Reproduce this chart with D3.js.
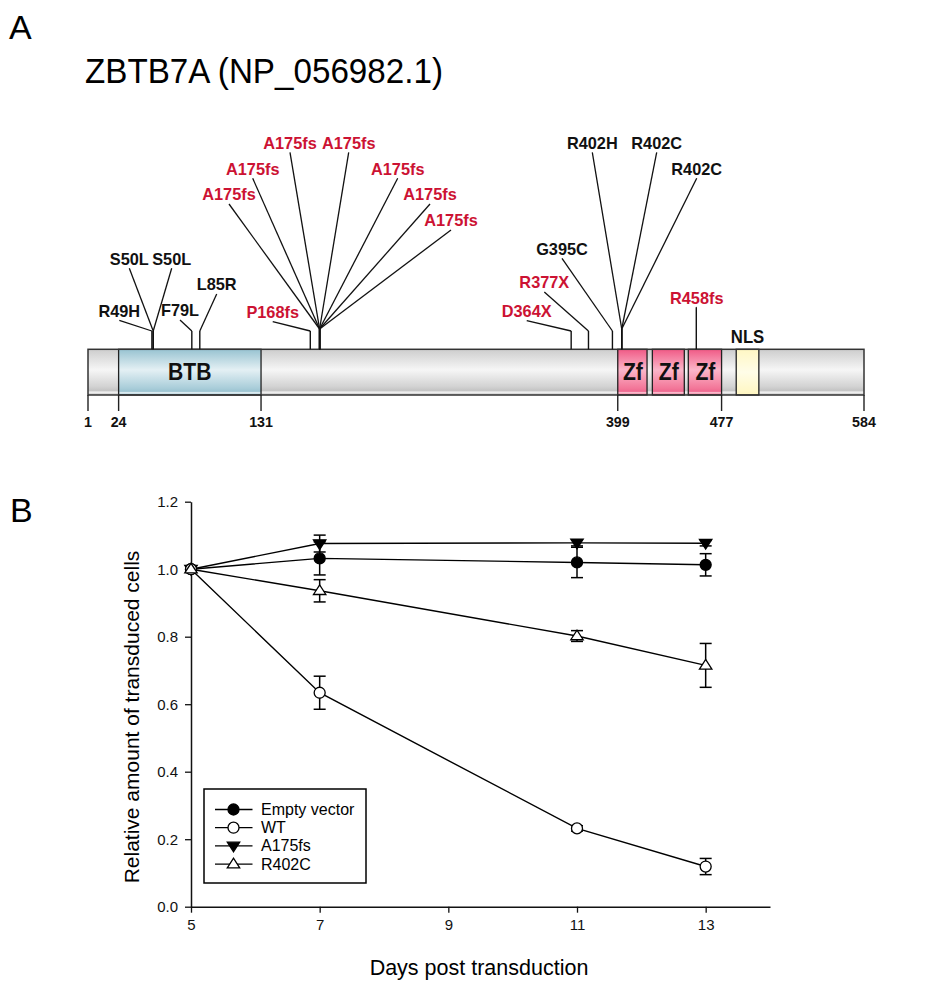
<!DOCTYPE html>
<html>
<head>
<meta charset="utf-8">
<script src="https://cdn.jsdelivr.net/npm/d3@7"></script>
<style>
  html, body { margin: 0; padding: 0; background: #fff; }
  svg { display: block; font-family: "Liberation Sans", Arial, sans-serif; }
</style>
</head>
<body>
<svg id="chart" width="941" height="1000"></svg>
<script>
// ---------------- DATA ----------------
// Panel A: protein ZBTB7A
const proteinLength = 584;
const positionTicks = [1, 24, 131, 399, 477, 584];
const domainNames  = ["BTB", "Zf", "Zf", "Zf", "NLS"];
const domainStarts = [24, 399, 425, 452, 488];
const domainEnds   = [131, 421, 449, 477, 505];
const domainKinds  = ["btb", "zf", "zf", "zf", "nls"];

const mutationNames = ["R49H", "S50L", "S50L", "F79L", "L85R", "P168fs",
  "A175fs", "A175fs", "A175fs", "A175fs", "A175fs", "A175fs", "A175fs",
  "D364X", "R377X", "G395C", "R402H", "R402C", "R402C", "R458fs"];
const mutationPositions = [49, 50, 50, 79, 85, 168,
  175, 175, 175, 175, 175, 175, 175,
  364, 377, 395, 402, 402, 402, 458];
const mutationTruncating = [false, false, false, false, false, true,
  true, true, true, true, true, true, true,
  true, true, false, false, false, false, true];

// Panel B: growth curves
const days = [5, 7, 11, 13];
const xTicks = [5, 7, 9, 11, 13];
const yTicks = [0, 0.2, 0.4, 0.6, 0.8, 1.0, 1.2];
const seriesNames = ["Empty vector", "WT", "A175fs", "R402C"];
const emptyVector    = [1.0, 1.032, 1.020, 1.013];
const emptyVectorErr = [0, 0.049, 0.045, 0.033];
const wt             = [1.0, 0.634, 0.232, 0.119];
const wtErr          = [0, 0.049, 0.008, 0.024];
const a175fs         = [1.0, 1.076, 1.078, 1.077];
const a175fsErr      = [0, 0.025, 0.009, 0.008];
const r402c          = [1.0, 0.936, 0.802, 0.715];
const r402cErr       = [0, 0.033, 0.016, 0.065];

// ---------------- LAYOUT (positions / styles) ----------------
const RED = "#cc1233";
const labelLayout = [ // [labelX, lineEndY, stemTopY]
  [119.3, 320.3, 331], [129.3, 268.3, 331], [171.7, 268.3, 331],
  [180, 320, 331], [216.7, 294, 331], [272.7, 321.7, 331],
  [229, 204, 329], [252.7, 178.3, 329], [290, 152.3, 329], [348.7, 152.3, 329],
  [397.7, 178.3, 329], [430, 204, 329], [451, 230, 329],
  [526.7, 320.7, 331], [544.3, 292, 331], [562, 258.3, 331],
  [592.3, 152.3, 329], [656.7, 152.3, 329], [696.7, 178.3, 329],
  [696.7, 307.3, 307.3]
];
const markerKinds = ["filledCircle", "openCircle", "filledDown", "openUp"];

const svg = d3.select("#chart");
const font = '"Liberation Sans", Arial, sans-serif';

// helper: slightly condensed bold text centred at (x, y)
function condText(g, x, y, size, sx, txt, fill) {
  return g.append("text").attr("transform", `translate(${x},${y}) scale(${sx},1)`)
    .attr("text-anchor", "middle").attr("font-size", size).attr("font-weight", "bold")
    .attr("fill", fill || "#111").text(txt);
}

// ---------- gradients ----------
const defs = svg.append("defs");
function grad(id, stops) {
  const g = defs.append("linearGradient").attr("id", id)
    .attr("x1", 0).attr("y1", 0).attr("x2", 0).attr("y2", 1);
  stops.forEach(s => g.append("stop").attr("offset", s[0]).attr("stop-color", s[1]));
}
grad("gGrey", [[0, "#cdcdcd"], [0.45, "#f6f6f6"], [0.82, "#d2d2d2"], [0.9, "#c4c4c4"], [0.94, "#f2f2f2"], [1, "#bdbdbd"]]);
grad("gBtb",  [[0, "#98c3d1"], [0.45, "#e4f0f4"], [0.85, "#a9cdd9"], [0.92, "#9cc4d1"], [0.95, "#e6f1f5"], [1, "#94bfcd"]]);
grad("gZf",   [[0, "#f05a86"], [0.45, "#fbb6c9"], [0.85, "#f37799"], [0.92, "#ef6890"], [0.95, "#fbc7d5"], [1, "#ea5a82"]]);
grad("gNls",  [[0, "#fff7c4"], [0.5, "#fffde8"], [1, "#fff6c0"]]);

// ---------------- PANEL A ----------------
svg.append("text").attr("x", 9).attr("y", 39).attr("font-size", 34).text("A");
svg.append("text").attr("x", 85).attr("y", 83).attr("font-size", 35)
  .attr("textLength", 358).attr("lengthAdjust", "spacingAndGlyphs")
  .text("ZBTB7A (NP_056982.1)");

const px = d3.scaleLinear().domain([1, proteinLength]).range([88, 864]);
const barTop = 349.3, barBottom = 395;

const gA = svg.append("g");
gA.append("rect").attr("x", px(1)).attr("y", barTop)
  .attr("width", px(proteinLength) - px(1)).attr("height", barBottom - barTop)
  .attr("fill", "url(#gGrey)");
const domainFill = { btb: "url(#gBtb)", zf: "url(#gZf)", nls: "url(#gNls)" };
domainNames.forEach((n, i) => {
  const x0 = px(domainStarts[i]), x1 = px(domainEnds[i]);
  gA.append("rect").attr("x", x0).attr("y", barTop).attr("width", x1 - x0)
    .attr("height", barBottom - barTop).attr("fill", domainFill[domainKinds[i]])
    .attr("stroke", "#222").attr("stroke-width", 1.3);
  if (domainKinds[i] === "nls") {
    condText(gA, (x0 + x1) / 2, 342.7, 18, 0.93, n);
  } else {
    condText(gA, (x0 + x1) / 2 + (domainKinds[i] === "zf" ? 0.5 : 0), 379.5, 23, 0.92, n);
  }
});
gA.append("rect").attr("x", px(1)).attr("y", barTop)
  .attr("width", px(proteinLength) - px(1)).attr("height", barBottom - barTop)
  .attr("fill", "none").attr("stroke", "#333").attr("stroke-width", 1.5);

positionTicks.forEach(t => {
  gA.append("line").attr("x1", px(t)).attr("x2", px(t)).attr("y1", barBottom).attr("y2", 411)
    .attr("stroke", "#222").attr("stroke-width", 1.4);
  condText(gA, px(t), 427.3, 15.5, 0.92, t);
});

mutationNames.forEach((name, i) => {
  const x = px(mutationPositions[i]);
  const [lx, ly, st] = labelLayout[i];
  gA.append("line").attr("x1", x).attr("x2", x).attr("y1", barTop).attr("y2", st)
    .attr("stroke", "#111").attr("stroke-width", 1.4);
  gA.append("line").attr("x1", x).attr("y1", st).attr("x2", lx).attr("y2", ly)
    .attr("stroke", "#111").attr("stroke-width", 1.3);
  condText(gA, lx, ly - 3.8, 17, 0.96, name, mutationTruncating[i] ? RED : "#111");
});

// ---------------- PANEL B ----------------
svg.append("text").attr("x", 10).attr("y", 522).attr("font-size", 34).text("B");

const x = d3.scaleLinear().domain([5, 14]).range([191, 770]);
const y = d3.scaleLinear().domain([0, 1.2]).range([906.7, 501.7]);

const gB = svg.append("g");
const xAxis = gB.append("g").attr("transform", `translate(0,${y(0)})`)
  .call(d3.axisBottom(x).tickValues(xTicks).tickFormat(d3.format("d")).tickSize(6).tickSizeOuter(0).tickPadding(7));
const yAxis = gB.append("g").attr("transform", `translate(${x(5)},0)`)
  .call(d3.axisLeft(y).tickValues(yTicks).tickFormat(d3.format(".1f")).tickSize(6).tickSizeOuter(0).tickPadding(7));
[xAxis, yAxis].forEach(a => {
  a.attr("font-size", 15).attr("font-family", font);
  a.selectAll("path").attr("stroke", "#111").attr("stroke-width", 1.5);
  a.selectAll("line").attr("stroke", "#111").attr("stroke-width", 1.3);
  a.selectAll("text").attr("font-size", 15).attr("fill", "#111");
});

svg.append("text").attr("x", 479).attr("y", 975).attr("text-anchor", "middle")
  .attr("font-size", 21.5).text("Days post transduction");
svg.append("text").attr("transform", "translate(139,717) rotate(-90)")
  .attr("text-anchor", "middle").attr("font-size", 21).text("Relative amount of transduced cells");

const seriesValues = [emptyVector, wt, a175fs, r402c];
const seriesErrors = [emptyVectorErr, wtErr, a175fsErr, r402cErr];

function drawMarker(g, kind, cx, cy) {
  if (kind === "filledCircle" || kind === "openCircle") {
    g.append("circle").attr("cx", cx).attr("cy", cy).attr("r", 5.5)
      .attr("fill", kind === "filledCircle" ? "#000" : "#fff")
      .attr("stroke", "#000").attr("stroke-width", 1.3);
  } else {
    const s = 6.2;
    const pts = kind === "filledDown"
      ? [[cx - s, cy - s * 0.6], [cx + s, cy - s * 0.6], [cx, cy + s * 0.95]]
      : [[cx - s, cy + s * 0.6], [cx + s, cy + s * 0.6], [cx, cy - s * 0.95]];
    g.append("path").attr("d", d3.line()(pts) + "Z")
      .attr("fill", kind === "filledDown" ? "#000" : "#fff")
      .attr("stroke", "#000").attr("stroke-width", 1.3).attr("stroke-linejoin", "miter");
  }
}

const line = d3.line().x((d, i) => x(days[i])).y(d => y(d));
seriesValues.forEach(vals => {
  gB.append("path").attr("d", line(vals)).attr("fill", "none")
    .attr("stroke", "#000").attr("stroke-width", 1.4);
});
seriesValues.forEach((vals, s) => {
  vals.forEach((v, i) => {
    const e = seriesErrors[s][i];
    if (!e) return;
    const cx = x(days[i]);
    const yt = y(v + e), yb = y(v - e);
    gB.append("line").attr("x1", cx).attr("x2", cx).attr("y1", yt).attr("y2", yb)
      .attr("stroke", "#000").attr("stroke-width", 1.5);
    [yt, yb].forEach(yy => gB.append("line").attr("x1", cx - 6).attr("x2", cx + 6)
      .attr("y1", yy).attr("y2", yy).attr("stroke", "#000").attr("stroke-width", 1.5));
  });
});
[0, 2, 1, 3].forEach(s => {
  seriesValues[s].forEach((v, i) => drawMarker(gB, markerKinds[s], x(days[i]), y(v)));
});

const lg = gB.append("g");
lg.append("rect").attr("x", 204).attr("y", 789).attr("width", 162).attr("height", 94)
  .attr("fill", "#fff").attr("stroke", "#000").attr("stroke-width", 1.5);
seriesNames.forEach((n, i) => {
  const yy = 809.5 + i * 18.2;
  lg.append("line").attr("x1", 215).attr("x2", 252.5).attr("y1", yy).attr("y2", yy)
    .attr("stroke", "#000").attr("stroke-width", 1.3);
  drawMarker(lg, markerKinds[i], 233.5, yy);
  lg.append("text").attr("x", 261).attr("y", yy + 5.5).attr("font-size", 16).text(n);
});
</script>
</body>
</html>
